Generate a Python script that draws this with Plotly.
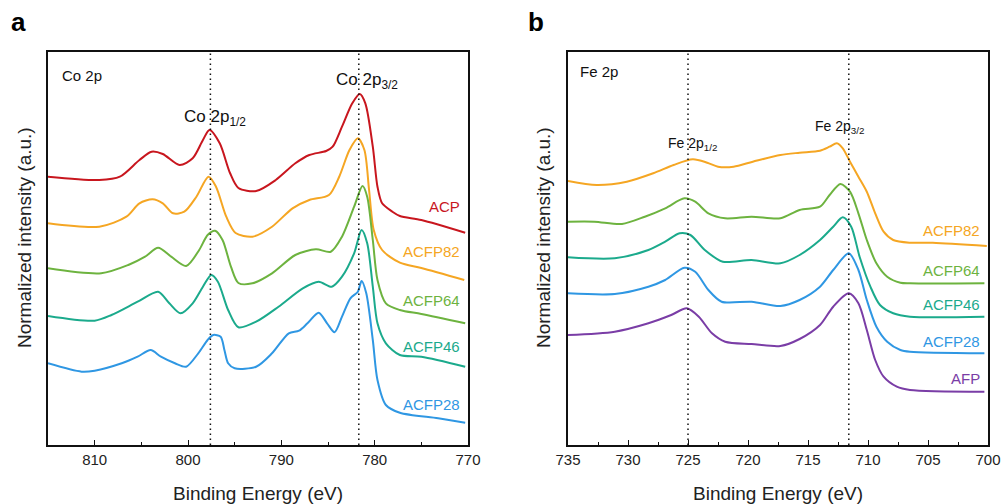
import plotly.graph_objects as go

# ---------------- Panel a: Co 2p ----------------
co_acp_e = [815.0, 809.5, 807.3, 805.2, 803.9, 802.7, 800.9, 799.5, 798.4, 797.7, 796.6, 795.5, 794.6,
            792.7, 790.6, 788.5, 787.0, 785.2, 784.5, 783.5, 782.4, 781.6, 781.0, 780.2, 779.7, 779.2,
            778.1, 777.3, 775.0, 770.3]
co_acp_i = [268.3, 265.0, 268.3, 285.0, 293.3, 291.0, 280.0, 286.7, 305.0, 315.0, 301.7, 272.0, 257.0,
            254.0, 265.0, 281.7, 290.0, 294.0, 298.3, 318.3, 341.7, 351.0, 341.7, 298.3, 258.3, 241.7,
            233.3, 229.0, 225.0, 212.3]

co_82_e = [815.0, 809.5, 806.6, 805.2, 803.8, 802.7, 801.6, 800.4, 799.1, 797.8, 797.0, 795.9, 794.9,
           793.1, 791.0, 788.8, 787.0, 784.9, 783.8, 782.7, 781.8, 781.1, 780.6, 780.1, 779.2, 777.3,
           775.0, 770.4]
co_82_i = [221.7, 218.3, 228.3, 241.7, 245.7, 241.7, 231.7, 233.3, 248.3, 268.3, 258.3, 228.3, 212.0,
           208.3, 218.3, 236.7, 245.0, 250.0, 268.3, 295.0, 306.7, 295.0, 255.0, 215.0, 195.0, 182.3,
           177.0, 165.0]

co_64_e = [815.0, 809.3, 806.4, 804.6, 803.2, 801.8, 800.2, 798.8, 797.9, 797.1, 796.3, 795.4, 794.6,
           793.1, 791.0, 788.5, 786.3, 784.7, 783.5, 782.2, 781.3, 780.8, 780.2, 779.7, 778.8, 777.3,
           775.0, 770.3]
co_64_i = [176.7, 171.7, 180.0, 188.3, 197.3, 188.3, 179.0, 195.0, 210.0, 214.3, 205.0, 178.3, 162.0,
           161.7, 171.7, 190.0, 195.7, 193.3, 208.3, 238.3, 259.0, 248.3, 205.0, 165.0, 141.7, 135.0,
           131.0, 121.7]

co_46_e = [815.0, 810.0, 808.2, 805.4, 803.2, 802.0, 800.8, 799.5, 798.4, 797.5, 796.8, 795.7, 794.6,
           792.7, 790.3, 787.7, 786.0, 784.6, 783.5, 782.2, 781.4, 780.8, 780.2, 779.7, 778.8, 777.3,
           775.0, 770.3]
co_46_i = [129.0, 124.3, 130.0, 143.3, 153.3, 141.7, 131.7, 141.7, 158.3, 170.0, 163.3, 135.0, 117.7,
           123.3, 138.3, 156.7, 163.3, 158.3, 168.3, 191.7, 215.0, 201.7, 158.3, 121.7, 101.7, 90.0,
           88.3, 78.3]

co_28_e = [815.0, 811.4, 810.0, 807.1, 805.4, 804.0, 802.9, 801.4, 800.2, 798.9, 797.9, 797.3, 796.5,
           796.1, 795.7, 795.0, 792.7, 791.0, 789.2, 788.1, 787.2, 786.0, 785.1, 784.3, 783.5, 782.6,
           781.8, 781.4, 780.9, 780.2, 779.7, 778.8, 777.3, 773.2, 770.3]
co_28_i = [81.7, 73.3, 74.3, 81.7, 88.3, 95.0, 88.3, 81.7, 78.3, 91.7, 105.0, 110.0, 108.3,
           95.0, 81.7, 76.7, 78.3, 91.7, 111.7, 114.3, 121.7, 132.3, 121.7, 112.7, 128.3, 146.7,
           153.3, 164.0, 151.7, 105.0, 65.0, 40.0, 32.3, 26.7, 22.3]

co_names = ["ACP", "ACFP82", "ACFP64", "ACFP46", "ACFP28"]
co_label_y = [238.3, 193.3, 145.0, 99.0, 41.0]
co_peaks = [797.6, 781.7]

# ---------------- Panel b: Fe 2p ----------------
fe_82_e = [735.0, 732.6, 730.1, 727.9, 726.2, 724.6, 723.4, 722.5, 721.2, 719.6, 717.3, 715.7, 714.0,
           713.2, 712.6, 712.1, 711.5, 710.8, 710.1, 709.4, 708.7, 707.9, 706.5, 704.6, 700.1]
fe_82_i = [264.0, 260.0, 263.3, 271.7, 280.0, 285.7, 282.3, 278.3, 278.3, 283.3, 290.0, 292.3, 294.3,
           298.3, 301.7, 296.7, 283.3, 268.3, 253.3, 231.7, 213.3, 205.0, 202.3, 202.3, 199.0]

fe_64_e = [735.0, 732.8, 730.5, 728.6, 726.9, 725.3, 724.4, 723.3, 721.9, 719.7, 717.3, 715.7, 714.0,
           713.2, 712.3, 711.5, 710.8, 710.1, 709.3, 708.4, 707.3, 706.5, 700.3]
fe_64_i = [223.3, 223.3, 221.0, 228.3, 236.7, 246.7, 243.3, 231.7, 226.7, 228.3, 226.7, 235.0, 238.3,
           250.0, 261.0, 253.3, 231.7, 205.0, 181.7, 168.3, 162.3, 161.7, 161.7]

fe_46_e = [735.0, 731.1, 728.3, 726.9, 725.7, 724.8, 723.6, 722.1, 719.7, 717.3, 715.7, 714.0, 712.9,
           712.1, 711.4, 710.7, 709.8, 709.0, 707.9, 706.5, 700.3]
fe_46_i = [187.7, 186.7, 195.0, 203.3, 211.7, 210.0, 195.0, 183.3, 185.0, 181.7, 190.0, 205.0, 218.3,
           227.7, 218.3, 188.3, 158.3, 140.0, 131.7, 128.3, 128.3]

fe_28_e = [735.0, 731.1, 728.3, 726.9, 725.3, 724.4, 723.3, 722.2, 719.7, 717.3, 715.7, 714.0, 712.9,
           711.6, 710.8, 710.1, 709.3, 708.4, 707.3, 706.5, 700.3]
fe_28_i = [151.7, 151.0, 158.3, 165.0, 177.3, 173.3, 155.0, 143.3, 143.3, 139.0, 145.0, 158.3, 175.0,
           191.7, 175.0, 145.0, 118.3, 103.3, 95.0, 93.3, 91.7]

fe_afp_e = [735.0, 731.1, 728.3, 726.4, 725.1, 724.1, 723.0, 721.9, 719.7, 717.3, 715.7, 714.0, 712.9,
            711.6, 710.8, 710.1, 709.4, 708.7, 707.6, 706.5, 700.3]
fe_afp_i = [110.0, 113.3, 121.7, 130.0, 136.7, 128.3, 111.7, 103.3, 101.0, 99.0, 106.0, 120.0, 138.3,
            151.7, 141.7, 115.0, 85.0, 68.3, 58.3, 55.0, 53.3]

fe_names = ["ACFP82", "ACFP64", "ACFP46", "ACFP28", "AFP"]
fe_label_y = [215.0, 174.3, 141.0, 103.3, 66.7]
fe_peaks = [725.0, 711.6]

colors = {"ACP": "#C8161E", "ACFP82": "#F5A623", "ACFP64": "#6DB33F",
          "ACFP46": "#1BAA8C", "ACFP28": "#2F97E3", "AFP": "#7A3DA6"}

FONT = "Arial, Liberation Sans, sans-serif"

fig = go.Figure()

co_series = [(co_acp_e, co_acp_i), (co_82_e, co_82_i), (co_64_e, co_64_i), (co_46_e, co_46_i), (co_28_e, co_28_i)]
for name, (e, i) in zip(co_names, co_series):
    fig.add_trace(go.Scatter(x=e, y=i, mode="lines", name=name, xaxis="x", yaxis="y",
                             line=dict(color=colors[name], width=2, shape="spline", smoothing=0.8),
                             showlegend=False))

fe_series = [(fe_82_e, fe_82_i), (fe_64_e, fe_64_i), (fe_46_e, fe_46_i), (fe_28_e, fe_28_i), (fe_afp_e, fe_afp_i)]
for name, (e, i) in zip(fe_names, fe_series):
    fig.add_trace(go.Scatter(x=e, y=i, mode="lines", name=name, xaxis="x2", yaxis="y2",
                             line=dict(color=colors[name], width=2, shape="spline", smoothing=0.8),
                             showlegend=False))

shapes = []
for p in co_peaks:
    shapes.append(dict(type="line", xref="x", yref="y domain", x0=p, x1=p, y0=0, y1=1,
                       line=dict(color="#111", width=1.5, dash="1.5px,3.5px")))
for p in fe_peaks:
    shapes.append(dict(type="line", xref="x2", yref="y2 domain", x0=p, x1=p, y0=0, y1=1,
                       line=dict(color="#111", width=1.5, dash="1.5px,3.5px")))

ann = []
for name, yv in zip(co_names, co_label_y):
    ann.append(dict(x=770.6, y=yv, xref="x", yref="y", text=name, showarrow=False, xanchor="right",
                    yanchor="middle", font=dict(family=FONT, size=15, color=colors[name])))
for name, yv in zip(fe_names, fe_label_y):
    ann.append(dict(x=700.5, y=yv, xref="x2", yref="y2", text=name, showarrow=False, xanchor="right",
                    yanchor="middle", font=dict(family=FONT, size=15, color=colors[name])))

# peak labels
ann.append(dict(x=800.6, y=326.7, xref="x", yref="y", text="Co 2p<sub>1/2</sub>", showarrow=False,
                xanchor="left", yanchor="middle", font=dict(family=FONT, size=17, color="#111")))
ann.append(dict(x=784.4, y=364.3, xref="x", yref="y", text="Co 2p<sub>3/2</sub>", showarrow=False,
                xanchor="left", yanchor="middle", font=dict(family=FONT, size=17, color="#111")))
ann.append(dict(x=726.8, y=301.0, xref="x2", yref="y2", text="Fe 2p<sub>1/2</sub>", showarrow=False,
                xanchor="left", yanchor="middle", font=dict(family=FONT, size=14, color="#111")))
ann.append(dict(x=714.6, y=318.3, xref="x2", yref="y2", text="Fe 2p<sub>3/2</sub>", showarrow=False,
                xanchor="left", yanchor="middle", font=dict(family=FONT, size=14, color="#111")))

W, H = 1002, 504


def px(x):
    return x / W


def py(y):
    return 1 - y / H


# panel titles
ann.append(dict(x=px(60), y=py(75), xref="paper", yref="paper", text="Co 2p", showarrow=False,
                xanchor="left", yanchor="middle", font=dict(family=FONT, size=15, color="#111")))
ann.append(dict(x=px(578), y=py(72), xref="paper", yref="paper", text="Fe 2p", showarrow=False,
                xanchor="left", yanchor="middle", font=dict(family=FONT, size=15, color="#111")))
# panel letters
ann.append(dict(x=px(9), y=py(22), xref="paper", yref="paper", text="<b>a</b>", showarrow=False,
                xanchor="left", yanchor="middle", font=dict(family=FONT, size=26, color="#000")))
ann.append(dict(x=px(526), y=py(22), xref="paper", yref="paper", text="<b>b</b>", showarrow=False,
                xanchor="left", yanchor="middle", font=dict(family=FONT, size=26, color="#000")))
# axis titles
for xc in (258, 778):
    ann.append(dict(x=px(xc), y=py(493), xref="paper", yref="paper", text="Binding Energy (eV)",
                    showarrow=False, xanchor="center", yanchor="middle",
                    font=dict(family=FONT, size=19, color="#222")))
for xc in (24, 543):
    ann.append(dict(x=px(xc), y=py(238), xref="paper", yref="paper", text="Normalized intensity (a.u.)",
                    showarrow=False, xanchor="center", yanchor="middle", textangle=-90,
                    font=dict(family=FONT, size=19, color="#222")))

xcommon = dict(showline=True, linecolor="#111", linewidth=1.5, mirror=True, ticks="inside",
               ticklen=5, tickwidth=1.2, tickcolor="#111", showgrid=False, zeroline=False,
               automargin=False, tickfont=dict(family=FONT, size=15, color="#222"))
ycommon = dict(showline=True, linecolor="#111", linewidth=1.5, mirror=True, ticks="",
               showticklabels=False, showgrid=False, zeroline=False, automargin=False, range=[0, 393])

fig.update_layout(
    width=W, height=H, margin=dict(l=0, r=0, t=0, b=0, pad=0), autosize=False,
    paper_bgcolor="white", plot_bgcolor="white",
    xaxis=dict(domain=[px(48), px(468)], range=[815, 770], dtick=10, anchor="y",
               minor=dict(ticks="inside", ticklen=3, dtick=5, tickcolor="#111", tickwidth=1.2),
               **xcommon),
    yaxis=dict(domain=[py(445), py(52)], anchor="x", **ycommon),
    xaxis2=dict(domain=[px(568), px(988)], range=[735, 700], dtick=5, anchor="y2",
                minor=dict(ticks="inside", ticklen=3, dtick=2.5, tickcolor="#111", tickwidth=1.2),
                **xcommon),
    yaxis2=dict(domain=[py(445), py(52)], anchor="x2", **ycommon),
    shapes=shapes, annotations=ann, showlegend=False,
)

fig.write_html("out.html", config={"displayModeBar": False},
               post_script="document.body.style.margin='0';document.body.style.overflow='hidden';")
